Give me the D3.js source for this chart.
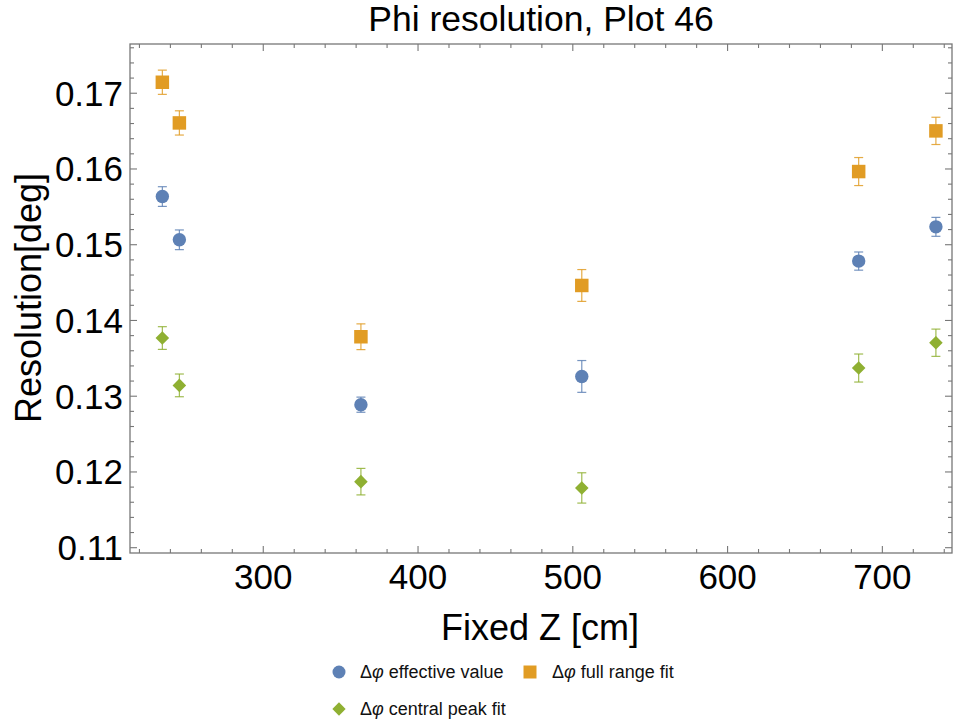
<!DOCTYPE html>
<html><head><meta charset="utf-8">
<script src="https://cdn.jsdelivr.net/npm/d3@7"></script>
<style>body{margin:0;background:#fff}svg{display:block}text{font-family:"Liberation Sans",Arial,sans-serif}</style>
</head><body><svg id="c" width="953" height="723"></svg>
<script>
const zPositions = [234.8, 245.8, 363.1, 505.8, 684.7, 734.6];
const effectiveValue = [0.15636, 0.15065, 0.12888, 0.13261, 0.14784, 0.15236];
const effectiveErr   = [0.0013, 0.0013, 0.0010, 0.0021, 0.0012, 0.00125];
const fullRange      = [0.17145, 0.16608, 0.13785, 0.14462, 0.15966, 0.16503];
const fullRangeErr   = [0.0016, 0.0016, 0.0017, 0.0021, 0.00185, 0.0018];
const centralPeak    = [0.13768, 0.13143, 0.11872, 0.11789, 0.13372, 0.13706];
const centralPeakErr = [0.0015, 0.0015, 0.00175, 0.0020, 0.00185, 0.0018];
const xTickLabels = [300, 400, 500, 600, 700];
const yTickLabels = [0.11, 0.12, 0.13, 0.14, 0.15, 0.16, 0.17];
const seriesNames = ["\u0394\u03c6 effective value", "\u0394\u03c6 full range fit", "\u0394\u03c6 central peak fit"];

const svg = d3.select("#c");
const L = 130, R = 952, T = 44, B = 553;
const x = d3.scaleLinear().domain([213.9, 745]).range([L, R]);
const y = d3.scaleLinear().domain([0.1093, 0.1765]).range([B, T]);
const frameColor = "#777";

// frame
svg.append("rect").attr("x", L).attr("y", T).attr("width", R - L).attr("height", B - T)
  .attr("fill", "none").attr("stroke", frameColor).attr("stroke-width", 1.3);

// ticks
const xMinor = d3.range(220, 745, 20);
const yMinor = d3.range(0, 34).map(i => +(0.110 + i * 0.002).toFixed(3)).filter(v => v <= 0.1765);
const isMajX = v => v % 100 === 0;
const isMajY = v => Math.abs(v * 100 - Math.round(v * 100)) < 1e-6;
const tg = svg.append("g").attr("stroke", frameColor).attr("stroke-width", 1.1);
xMinor.forEach(v => {
  const len = isMajX(v) ? 7 : 4;
  tg.append("line").attr("x1", x(v)).attr("x2", x(v)).attr("y1", B).attr("y2", B - len);
  tg.append("line").attr("x1", x(v)).attr("x2", x(v)).attr("y1", T).attr("y2", T + len);
});
yMinor.forEach(v => {
  const len = isMajY(v) ? 7 : 4;
  tg.append("line").attr("y1", y(v)).attr("y2", y(v)).attr("x1", L).attr("x2", L + len);
  tg.append("line").attr("y1", y(v)).attr("y2", y(v)).attr("x1", R).attr("x2", R - len);
});

// tick labels
svg.append("g").selectAll("text").data(xTickLabels).join("text")
  .attr("x", d => x(d)).attr("y", 589).attr("text-anchor", "middle")
  .attr("font-size", 35).attr("fill", "#000").text(d => d);
svg.append("g").selectAll("text").data(yTickLabels).join("text")
  .attr("x", 123).attr("y", d => y(d) + 12.5).attr("text-anchor", "end")
  .attr("font-size", 35).attr("fill", "#000").text(d => d.toFixed(2));

// titles
svg.append("text").attr("x", (L + R) / 2).attr("y", 31).attr("text-anchor", "middle")
  .attr("font-size", 35.5).text("Phi resolution, Plot 46");
svg.append("text").attr("x", 540).attr("y", 640).attr("text-anchor", "middle")
  .attr("font-size", 36).text("Fixed Z [cm]");
svg.append("text").attr("transform", "translate(41,298) rotate(-90)").attr("text-anchor", "middle")
  .attr("font-size", 36).text("Resolution[deg]");

const series = [
  {vals: effectiveValue, err: effectiveErr, color: "#5E81B5", shape: d3.symbolCircle, size: Math.PI * 6.7 * 6.7, rot: 0},
  {vals: fullRange, err: fullRangeErr, color: "#E19C24", shape: d3.symbolSquare, size: 13.5 * 13.5, rot: 0},
  {vals: centralPeak, err: centralPeakErr, color: "#8FB032", shape: d3.symbolSquare, size: 92, rot: 45}
];

series.forEach(s => {
  const g = svg.append("g");
  zPositions.forEach((z, i) => {
    const cx = x(z), y0 = y(s.vals[i] - s.err[i]), y1 = y(s.vals[i] + s.err[i]);
    const eg = g.append("g").attr("stroke", s.color).attr("stroke-width", 1.2).attr("stroke-opacity", 0.85);
    eg.append("line").attr("x1", cx).attr("x2", cx).attr("y1", y0).attr("y2", y1);
    eg.append("line").attr("x1", cx - 4.5).attr("x2", cx + 4.5).attr("y1", y0).attr("y2", y0);
    eg.append("line").attr("x1", cx - 4.5).attr("x2", cx + 4.5).attr("y1", y1).attr("y2", y1);
    g.append("path").attr("d", d3.symbol().type(s.shape).size(s.size)())
      .attr("transform", `translate(${cx},${y(s.vals[i])}) rotate(${s.rot})`).attr("fill", s.color);
  });
});

// legend
const legendPos = [[339, 672, 360, 678], [530, 672, 552, 678], [339, 709, 360, 715]];
series.forEach((s, i) => {
  const [mx, my, tx, ty] = legendPos[i];
  const sz = i === 0 ? Math.PI * 6.5 * 6.5 : (i === 1 ? 13 * 13 : 88);
  svg.append("path").attr("d", d3.symbol().type(s.shape).size(sz)())
    .attr("transform", `translate(${mx},${my}) rotate(${s.rot})`).attr("fill", s.color);
  const t = svg.append("text").attr("x", tx).attr("y", ty).attr("font-size", 18).attr("fill", "#111");
  const parts = seriesNames[i].split(" ");
  t.append("tspan").text(parts[0][0]);
  t.append("tspan").attr("font-style", "italic").text(parts[0].slice(1));
  t.append("tspan").text(" " + parts.slice(1).join(" "));
});
</script></body></html>
